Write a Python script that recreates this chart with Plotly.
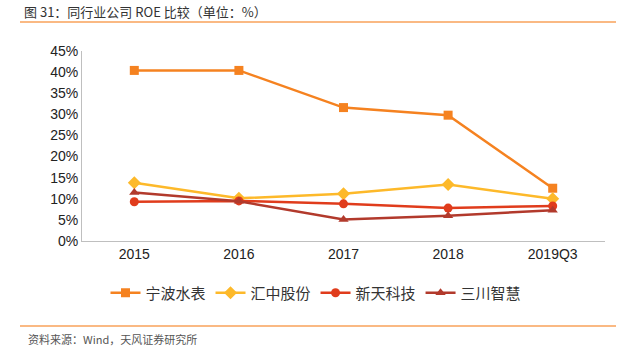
import plotly.graph_objects as go

categories = ["2015", "2016", "2017", "2018", "2019Q3"]
ningbo = [40.4, 40.4, 31.6, 29.8, 12.5]
huizhong = [13.8, 10.1, 11.2, 13.4, 10.0]
xintian = [9.3, 9.5, 8.8, 7.8, 8.3]
sanchuan = [11.5, 9.4, 5.1, 6.0, 7.3]
y_ticks = [0, 5, 10, 15, 20, 25, 30, 35, 40, 45]

series = [
    ("宁波水表", ningbo, "#F58220", "square"),
    ("汇中股份", huizhong, "#FDB92A", "diamond"),
    ("新天科技", xintian, "#E03C1C", "circle"),
    ("三川智慧", sanchuan, "#B23A2C", "triangle-up"),
]

W, H = 631, 352
L, R, T, B = 82, 26, 51, 111
pw, ph = W - L - R, H - T - B

def px(x):
    return (x - L) / pw

def py(y):
    return (H - B - y) / ph

fig = go.Figure()
for name, vals, color, sym in series:
    fig.add_trace(go.Scatter(
        x=categories, y=vals, name=name, mode="lines+markers",
        line=dict(color=color, width=2.5),
        marker=dict(symbol=sym, size=9 if sym != "diamond" else 10, color=color),
    ))

fig.update_layout(
    width=W, height=H,
    margin=dict(l=L, r=R, t=T, b=B),
    paper_bgcolor="white", plot_bgcolor="white",
    showlegend=True,
    legend=dict(orientation="h", x=px(316), xanchor="center", y=py(293), yanchor="middle",
                font=dict(family="Noto Sans CJK SC", size=15, color="#333333"),
                itemwidth=30, tracegroupgap=0),
    xaxis=dict(type="category", showgrid=False, showline=True, linecolor="#BFBFBF",
               linewidth=1, ticks="", tickfont=dict(family="Liberation Sans", size=14, color="#222222"),
               range=[-0.5, 4.5]),
    yaxis=dict(range=[0, 45], tickvals=y_ticks, ticktext=[f"{v}%" for v in y_ticks],
               showgrid=False, showline=True, linecolor="#BFBFBF", linewidth=1, ticks="",
               zeroline=False,
               tickfont=dict(family="Liberation Sans", size=14, color="#222222")),
    shapes=[
        dict(type="line", xref="paper", yref="paper", x0=px(20), x1=px(616), y0=py(22), y1=py(22),
             line=dict(color="#F8A25A", width=1.5)),
        dict(type="line", xref="paper", yref="paper", x0=px(20), x1=px(616), y0=py(326), y1=py(326),
             line=dict(color="#F8A25A", width=1.5)),
    ],
    annotations=[
        dict(text="图 31：同行业公司 ROE 比较（单位：%）", xref="paper", yref="paper",
             x=px(22), y=py(11), xanchor="left", yanchor="middle", showarrow=False,
             font=dict(family="Noto Sans CJK SC", size=13, color="#333333")),
        dict(text="资料来源：Wind，天风证券研究所", xref="paper", yref="paper",
             x=px(26), y=py(339), xanchor="left", yanchor="middle", showarrow=False,
             font=dict(family="Noto Sans CJK SC", size=11, color="#555555")),
    ],
)

fig.write_html("out.html")
